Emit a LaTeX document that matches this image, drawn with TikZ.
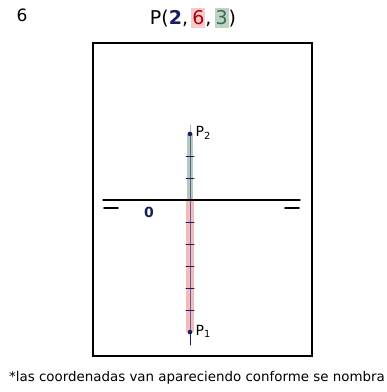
\documentclass[tikz,border=0pt]{standalone}
\usepackage{xcolor}
\usepackage{fontspec}
\setmainfont{DejaVu Sans}
\definecolor{tinta}{HTML}{1A1F5C}
\definecolor{rosa}{HTML}{F2A9AE}
\definecolor{verde}{HTML}{8FB5A0}
\definecolor{verdeosc}{HTML}{3E6B4E}
\def\unidad{22}

\begin{document}
\begin{tikzpicture}[x=1pt, y=-1pt, line cap=round,
    marco/.style={line width=1.6pt, black},
    eje/.style={line width=1.4pt, black},
    marca/.style={line width=1pt, tinta},
    punto/.style={circle, fill=tinta, inner sep=1.6pt},
    etiq/.style={font=\fontsize{14}{16}\selectfont, inner sep=1pt}]
	\useasboundingbox (0,0) rectangle (387,392);
	% encabezado
	\node[font=\fontsize{17}{20}\selectfont] (num) at (22,15) {6};
	\node[font=\fontsize{19}{22}\selectfont] (tit) at (193,18) {P(\textcolor{tinta}{\textbf{2}},\,%
		\colorbox{rosa!60}{\kern-2pt\textcolor{red!70!black}{6}\kern-2pt},\,%
		\colorbox{verde!60}{\kern-2pt\textcolor{verdeosc}{3}\kern-2pt})};
	% marco
	\draw[marco] (93,43) rectangle (312,356);
	% puntos
	\coordinate (O) at (190,200);
	\node[punto] (P2) at (190,200-3*\unidad) {};
	\node[punto] (P1) at (190,200+6*\unidad) {};
	\node[etiq, anchor=west] at ([xshift=2pt,yshift=1pt]P2.east) {P\textsubscript{2}};
	\node[etiq, anchor=west] at ([xshift=2pt,yshift=1pt]P1.east) {P\textsubscript{1}};
	% bandas de color
	\fill[verde!70] (187,200-3*\unidad) rectangle (193,200);
	\fill[rosa!80] (186,200) rectangle (194,200+6*\unidad);
	% eje vertical
	\draw[gray!60, line width=0.5pt] (190,125) -- (P2);
	\draw[tinta!70, line width=0.6pt] (P2) -- (P1);
	\draw[tinta, line width=0.6pt] (P1) -- (190,345);
	\foreach \k in {1,2} \draw[marca] (186,200-\k*\unidad) -- (194,200-\k*\unidad);
	\foreach \k in {1,...,5} \draw[marca] (186,200+\k*\unidad) -- (194,200+\k*\unidad);
	\node[punto] at (P2) {};
	\node[punto] at (P1) {};
	% eje horizontal
	\coordinate (izq) at (103,200);
	\coordinate (der) at (300,200);
	\draw[eje] (izq) -- (der);
	\draw[line width=2.6pt] (148,200) -- (O);
	\draw[line width=1.8pt] (104,208) -- (118,208);
	\draw[line width=1.8pt] (285,208) -- (299,208);
	\node[etiq, text=tinta] (cero) at (149,212) {\bfseries 0};
	% nota
	\node[font=\fontsize{13.4}{15}\selectfont, inner sep=0pt] (nota) at (197,378)
		{*las coordenadas van apareciendo conforme se nombra};
\end{tikzpicture}
\end{document}
